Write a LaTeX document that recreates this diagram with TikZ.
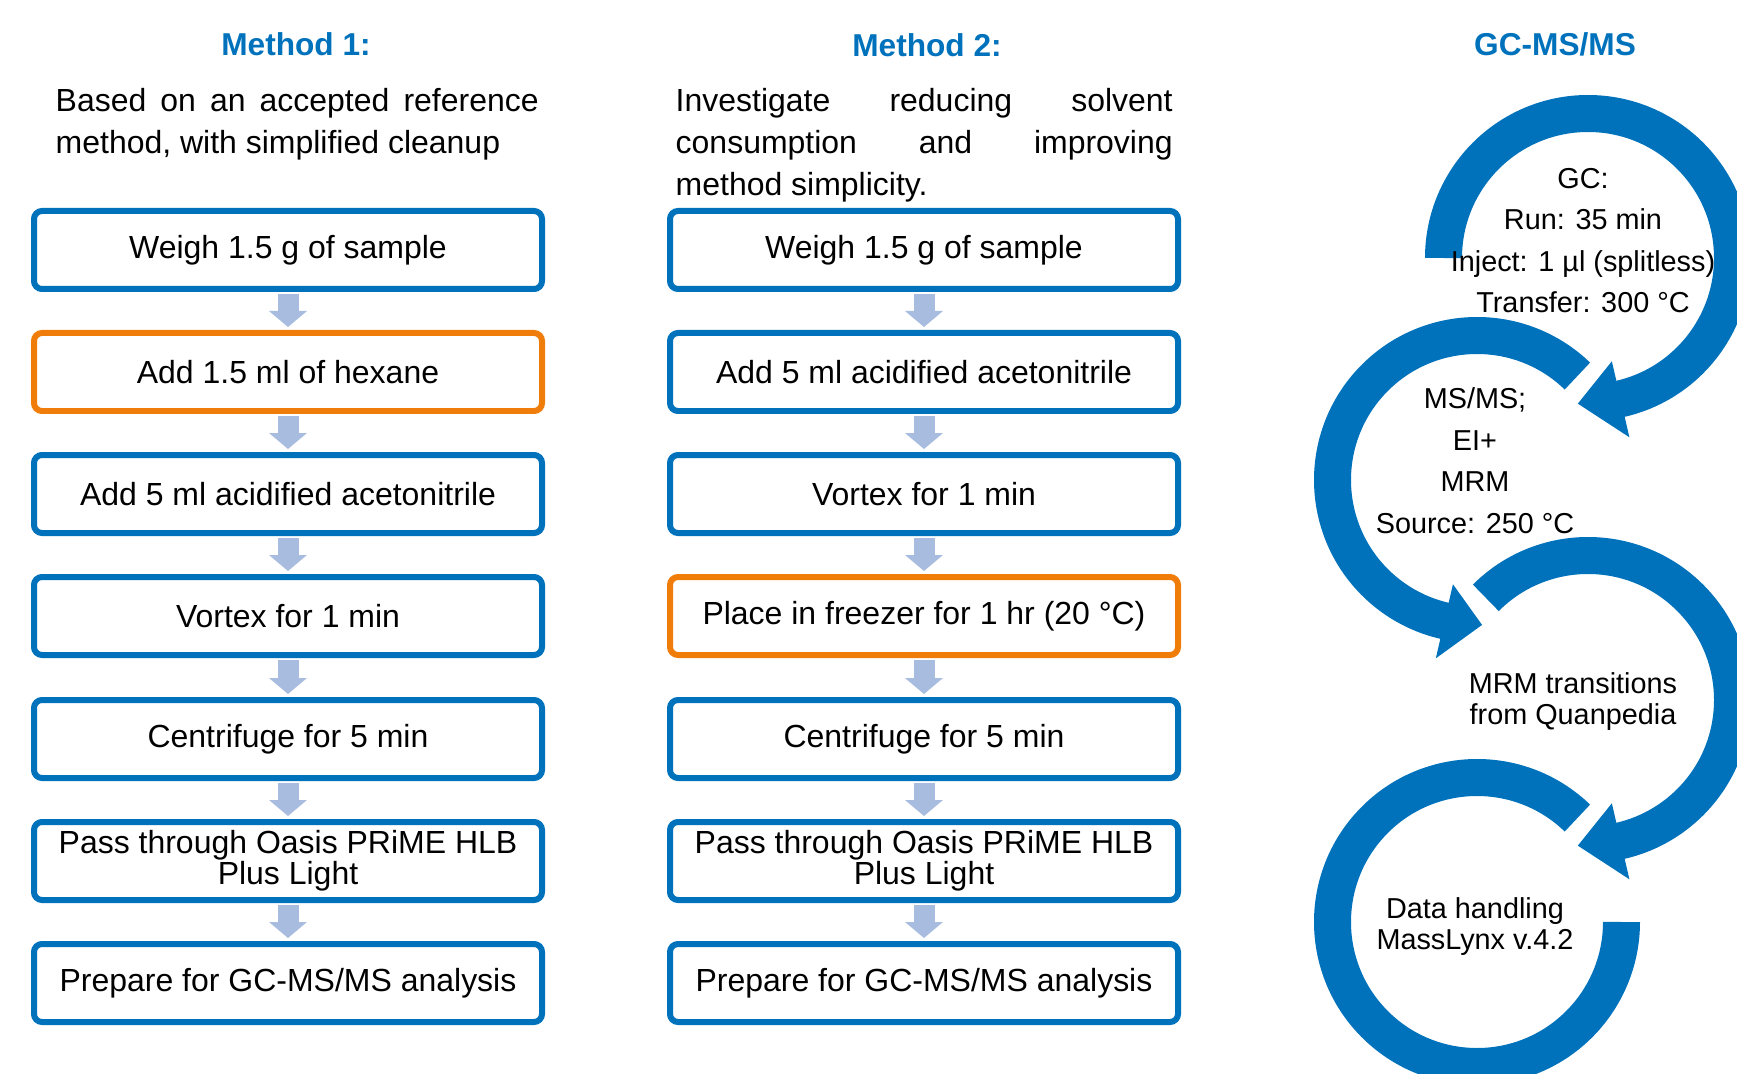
\documentclass[tikz,border=0pt]{standalone}
\usepackage{fontspec}
\setmainfont{Liberation Sans}
\usepackage{xcolor}
\usetikzlibrary{arrows, arrows.meta}

\definecolor{stepblue}{RGB}{0,114,188}
\definecolor{steporange}{RGB}{240,125,10}
\definecolor{flowblue}{RGB}{167,188,222}

\tikzset{
  stepbox/.style={draw=stepblue, line width=0.06cm, rounded corners=0.08cm, minimum width=5.08cm, minimum height=0.78cm, inner sep=0pt, align=center, font=\fontsize{9.1}{8.8}\selectfont},
  flowarrow/.style={draw=flowblue, line width=0.21cm, -{Triangle[width=0.38cm, length=0.16cm, line width=0pt]}, shorten <=0.02cm, shorten >=0.03cm},
  titletext/.style={text=stepblue, inner sep=0pt, font=\fontsize{9}{11}\selectfont\bfseries},
  desctext/.style={anchor=north west, align=justify, inner sep=0pt, font=\fontsize{9.1}{11.9}\selectfont},
  ring/.style={draw=stepblue, line width=0.37cm},
  ringtext/.style={align=center, inner sep=0pt, font=\fontsize{8.2}{11.8}\selectfont},
  ringtight/.style={align=center, inner sep=0pt, font=\fontsize{8.2}{8.8}\selectfont},
}

\begin{document}
\begin{tikzpicture}
\useasboundingbox (0,0) rectangle (17.37,-10.74);
\clip (0,0) rectangle (17.37,-10.74);

%titles
\node[titletext] (m1title) at (2.96,-0.44) {Method 1:};
\node[titletext] (m2title) at (9.27,-0.45) {Method 2:};
\node[titletext] (gctitle) at (15.55,-0.44) {GC-MS/MS};

\node[desctext, text width=4.83cm] (m1desc) at (0.55,-0.875) {Based on an accepted reference\linebreak method, with simplified cleanup};
\node[desctext, text width=4.97cm] (m2desc) at (6.75,-0.875) {Investigate reducing solvent\linebreak consumption and improving\linebreak method simplicity.};

%method 1
\node[stepbox] (m1a) at (2.88,-2.50) {Weigh 1.5 g of sample};
\node[stepbox, draw=steporange] (m1b) at (2.88,-3.72) {Add 1.5 ml of hexane};
\node[stepbox] (m1c) at (2.88,-4.94) {Add 5 ml acidified acetonitrile};
\node[stepbox] (m1d) at (2.88,-6.16) {Vortex for 1 min};
\node[stepbox] (m1e) at (2.88,-7.39) {Centrifuge for 5 min};
\node[stepbox] (m1f) at (2.88,-8.61) {Pass through Oasis PRiME HLB\\Plus Light};
\node[stepbox] (m1g) at (2.88,-9.83) {Prepare for GC-MS/MS analysis};

%method 2
\node[stepbox] (m2a) at (9.24,-2.50) {Weigh 1.5 g of sample};
\node[stepbox] (m2b) at (9.24,-3.72) {Add 5 ml acidified acetonitrile};
\node[stepbox] (m2c) at (9.24,-4.94) {Vortex for 1 min};
\node[stepbox, draw=steporange] (m2d) at (9.24,-6.16) {Place in freezer for 1 hr (20 °C)};
\node[stepbox] (m2e) at (9.24,-7.39) {Centrifuge for 5 min};
\node[stepbox] (m2f) at (9.24,-8.61) {Pass through Oasis PRiME HLB\\Plus Light};
\node[stepbox] (m2g) at (9.24,-9.83) {Prepare for GC-MS/MS analysis};

\draw[flowarrow] (m1a) -- (m1b);
\draw[flowarrow] (m1b) -- (m1c);
\draw[flowarrow] (m1c) -- (m1d);
\draw[flowarrow] (m1d) -- (m1e);
\draw[flowarrow] (m1e) -- (m1f);
\draw[flowarrow] (m1f) -- (m1g);

\draw[flowarrow] (m2a) -- (m2b);
\draw[flowarrow] (m2b) -- (m2c);
\draw[flowarrow] (m2c) -- (m2d);
\draw[flowarrow] (m2d) -- (m2e);
\draw[flowarrow] (m2e) -- (m2f);
\draw[flowarrow] (m2f) -- (m2g);

%gc-ms/ms rings
\coordinate (c1) at (15.88,-2.58);
\coordinate (c2) at (14.77,-4.80);
\coordinate (c3) at (15.88,-7.00);
\coordinate (c4) at (14.77,-9.22);

\draw[ring] ([shift={(180:1.445)}]c1) arc[start angle=180, end angle=-78, radius=1.445];
\fill[stepblue] ([shift={(-77:1.06)}]c1) -- ([shift={(-77:1.84)}]c1) -- ([shift={(-94:1.46)}]c1) -- cycle;

\draw[ring] ([shift={(46:1.445)}]c2) arc[start angle=46, end angle=258, radius=1.445];
\fill[stepblue] ([shift={(257:1.07)}]c2) -- ([shift={(257:1.83)}]c2) -- ([shift={(272:1.45)}]c2) -- cycle;

\draw[ring] ([shift={(135:1.445)}]c3) arc[start angle=135, end angle=-78, radius=1.445];
\fill[stepblue] ([shift={(-77:1.06)}]c3) -- ([shift={(-77:1.84)}]c3) -- ([shift={(-94:1.46)}]c3) -- cycle;

\draw[ring] ([shift={(46:1.445)}]c4) arc[start angle=46, end angle=360, radius=1.445];

\node[ringtext] (gcinfo) at (15.83,-2.405) {GC:\\Run: 35 min\\Inject: 1 µl (splitless)\\Transfer: 300 °C};
\node[ringtext] (msinfo) at (14.75,-4.605) {MS/MS;\\EI+\\MRM\\Source: 250 °C};
\node[ringtight] (mrminfo) at (15.73,-7.015) {MRM transitions\\from Quanpedia};
\node[ringtight] (datainfo) at (14.75,-9.265) {Data handling\\MassLynx v.4.2};
\end{tikzpicture}
\end{document}
